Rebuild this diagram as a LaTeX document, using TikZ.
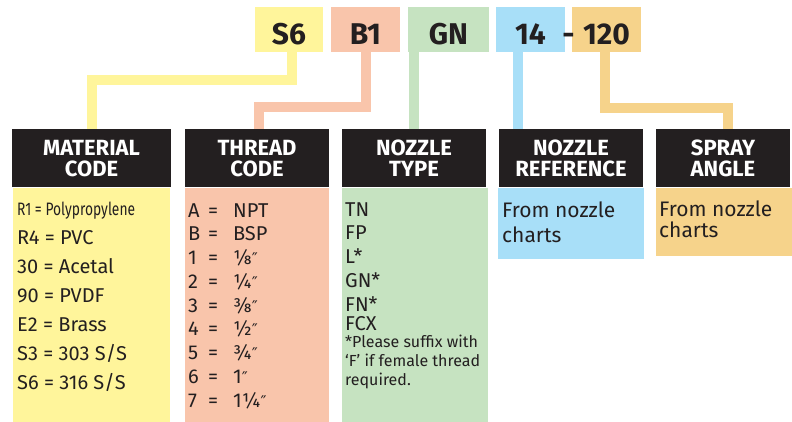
\documentclass[tikz,border=0pt]{standalone}
\usepackage{fontspec}
\setmainfont{Fira Sans}
\newfontfamily\headfont[FakeStretch=1.0]{Fira Sans}
\newfontfamily\symfont{DejaVu Sans}
\usepackage{tikz}

\definecolor{inkc}{HTML}{231F20}
\definecolor{matc}{HTML}{FFF59B}
\definecolor{thrc}{HTML}{F9C5AB}
\definecolor{nozc}{HTML}{C6E3C1}
\definecolor{refc}{HTML}{A8DFF8}
\definecolor{angc}{HTML}{F6D38B}

\newcommand{\thrrow}[2]{\makebox[20pt][l]{#1}\makebox[25pt][l]{=}#2}
\newcommand{\inch}{{\symfont\fontsize{16}{16}\selectfont ″}}

\begin{document}
\begin{tikzpicture}[x=1pt, y=-1pt, line join=miter,
    tag/.style={minimum height=45pt, inner sep=0pt, text height=29pt, text depth=0pt, text=inkc, font=\bfseries\fontsize{30}{30}\selectfont},
    head/.style={fill=inkc, text=white, minimum height=58pt, inner sep=0pt, align=center, anchor=north, font=\headfont\bfseries\fontsize{22}{21}\selectfont},
    body/.style={anchor=north, inner sep=0pt},
    item/.style={anchor=base west, inner sep=0pt, text=inkc, font=\fontsize{20}{24}\selectfont},
    chart/.style={item, font=\fontsize{21}{24}\selectfont},
    note/.style={item, font=\fontsize{16}{19}\selectfont},
    link/.style={line width=10pt}]
    \useasboundingbox (0,0) rectangle (792,421);
    % code tags
    \draw(289,29.5) node[tag, fill=matc, minimum width=68pt] (s6) {S6};
    \draw(365.5,29.5) node[tag, fill=thrc, minimum width=69pt] (b1) {B1};
    \draw(448.5,29.5) node[tag, fill=nozc, minimum width=81pt] (gn) {GN};
    \draw(530.5,29.5) node[tag, fill=refc, minimum width=69pt] (ref14) {14};
    \draw(606.5,29.5) node[tag, fill=angc, minimum width=69pt] (ang120) {120};
    \draw(568.5,29.5) node[tag, minimum height=0pt] (dash) {-};
    % headers
    \draw(91.5,129) node[head, minimum width=159pt] (mathead) {MATERIAL\\CODE};
    \draw(257,129) node[head, minimum width=144pt] (thrhead) {THREAD\\CODE};
    \draw(414,129) node[head, minimum width=144pt] (nozhead) {NOZZLE\\TYPE};
    \draw(571,129) node[head, minimum width=144pt] (refhead) {NOZZLE\\REFERENCE};
    \draw(723,129) node[head, minimum width=134pt] (anghead) {SPRAY\\ANGLE};
    % connectors
    \coordinate (matbend) at (91.5,80);
    \coordinate (thrbend) at (259,107);
    \coordinate (angbend) at (728,108);
    \draw[link, matc] ([xshift=3pt]s6.south) |- (matbend) -- (mathead.north);
    \draw[link, thrc] (b1.south) |- (thrbend) -- ([xshift=2pt]thrhead.north);
    \draw[link, nozc] (nozhead.north) -- (nozhead.north |- gn.south);
    \draw[link, refc] ([xshift=-12.5pt]ref14.south) -- ([xshift=-53pt]refhead.north);
    \draw[link, angc] ([xshift=-1.5pt]ang120.south) |- (angbend) -- ([xshift=5pt]anghead.north);
    % bodies
    \node[body, fill=matc, minimum width=157pt, minimum height=234pt] (matbody) at (mathead.south) {};
    \node[body, fill=thrc, minimum width=144pt, minimum height=234pt] (thrbody) at (thrhead.south) {};
    \node[body, fill=nozc, minimum width=146pt, minimum height=234pt] (nozbody) at ([xshift=1pt]nozhead.south) {};
    \node[body, fill=refc, minimum width=146pt, minimum height=71pt] (refbody) at (refhead.south) {};
    \node[body, fill=angc, minimum width=136pt, minimum height=68pt] (angbody) at ([xshift=1pt]anghead.south) {};
    % entries
    \foreach \txt [count=\i from 0] in {{\scalebox{0.69}[0.9]{R1 = Polypropylene}}, R4 = PVC, 30 = Acetal, 90 = PVDF, E2 = Brass, S3 = 303 S/S, S6 = 316 S/S}
        \draw(17,215+29*\i) node[item] (mat\i) {\txt};
    \foreach \a/\b [count=\i from 0] in {A/NPT, B/BSP, 1/⅛\inch, 2/¼\inch, 3/⅜\inch, 4/½\inch, 5/¾\inch, 6/1\inch, 7/1¼\inch}
        \draw(188,217+23.75*\i) node[item] (thr\i) {\thrrow{\a}{\b}};
    \foreach \txt [count=\i from 0] in {TN, FP, L*, GN*, FN*}
        \draw(345,216+23.75*\i) node[item] (noz\i) {\txt};
    \draw(345,330) node[item] (noz5) {FCX};
    \foreach \txt [count=\i from 0] in {*Please suffix with, `F' if female thread, required.}
        \draw(345,347+19*\i) node[note] (nozfn\i) {\txt};
    \draw(502,217) node[chart] (ref0) {From nozzle};
    \draw(502,242) node[chart] (ref1) {charts};
    \draw(659,216) node[chart] (ang0) {From nozzle};
    \draw(659,237) node[chart] (ang1) {charts};
\end{tikzpicture}
\end{document}
